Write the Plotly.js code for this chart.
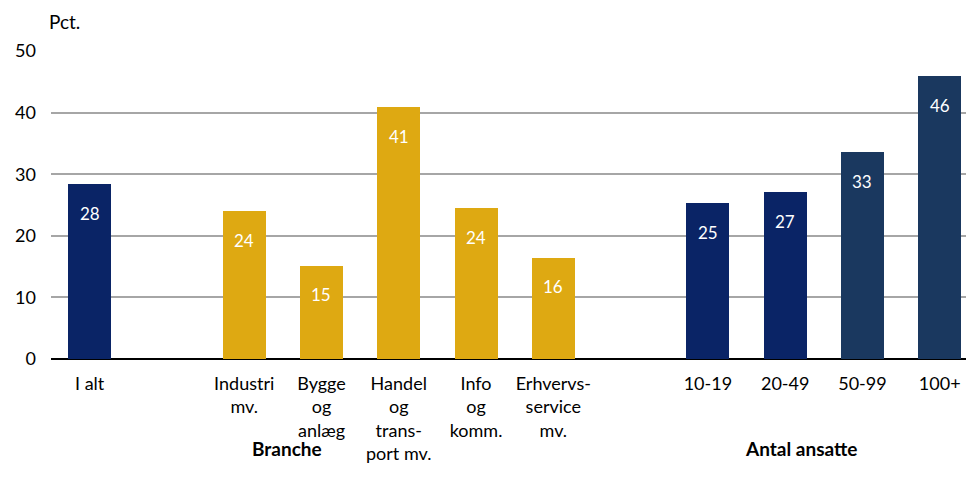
<!DOCTYPE html>
<html><head><meta charset="utf-8">
<script src="https://cdn.plot.ly/plotly-3.0.1.min.js"></script>
<style>html,body{margin:0;padding:0;background:#fff}#c{width:966px;height:483px}</style>
</head><body><div id="c"></div>
<script>
const categories = ["I alt","Industri<br>mv.","Bygge<br>og<br>anlæg","Handel<br>og<br>trans-<br>port mv.","Info<br>og<br>komm.","Erhvervs-<br>service<br>mv.","10-19","20-49","50-99","100+"];
const slots = [0,2,3,4,5,6,8,9,10,11];
const values = [28.4,24.0,15.1,40.9,24.5,16.4,25.3,27.1,33.6,45.9];
const labels = ["28","24","15","41","24","16","25","27","33","46"];
const colors = ["#0a2466","#dea912","#dea912","#dea912","#dea912","#dea912","#0a2466","#0a2466","#1a385f","#1a385f"];
const yTicks = [0,10,20,30,40,50];

const font = "Lato, Open Sans, sans-serif";
const data = [{
  type: "bar",
  x: slots, y: values,
  width: 0.556,
  marker: {color: colors},
  hoverinfo: "skip"
}];
const valueAnn = slots.map((s, i) => ({
  x: s, y: values[i], xref: "x", yref: "y", text: labels[i],
  showarrow: false, yanchor: "middle", xanchor: "center", yshift: -29,
  font: {size: 17, family: font, color: "#ffffff"}
}));
const layout = {
  width: 966, height: 483,
  margin: {l: 51, r: 0, t: 51, b: 124},
  paper_bgcolor: "#fff", plot_bgcolor: "#fff",
  showlegend: false,
  bargap: 0,
  xaxis: {
    range: [-0.5, 11.34],
    tickvals: slots, ticktext: categories,
    tickfont: {size: 18, family: font, color: "#000"},
    showgrid: false, zeroline: false, showline: false,
    ticks: "", ticklen: 0, ticklabelstandoff: 12
  },
  yaxis: {
    range: [0, 50],
    tickvals: yTicks,
    tickfont: {size: 18, family: font, color: "#000"},
    showgrid: true, gridcolor: "#a6a6a6", gridwidth: 2,
    zeroline: true, zerolinecolor: "#000", zerolinewidth: 2,
    showline: false, ticks: "", ticklen: 0, ticklabelstandoff: 14
  },
  annotations: valueAnn.concat([
    {text: "Pct.", xref: "paper", yref: "paper", x: -0.004, y: 1.097, xanchor: "left", yanchor: "middle", showarrow: false, font: {size: 19, family: font, color: "#000"}},
    {text: "<b>Branche</b>", xref: "x", yref: "paper", x: 2.55, y: -0.29, xanchor: "center", yanchor: "middle", showarrow: false, font: {size: 19, family: font, color: "#000"}},
    {text: "<b>Antal ansatte</b>", xref: "x", yref: "paper", x: 9.2, y: -0.29, xanchor: "center", yanchor: "middle", showarrow: false, font: {size: 19, family: font, color: "#000"}}
  ])
};
Plotly.newPlot("c", data, layout, {displayModeBar: false, staticPlot: true});
</script></body></html>
